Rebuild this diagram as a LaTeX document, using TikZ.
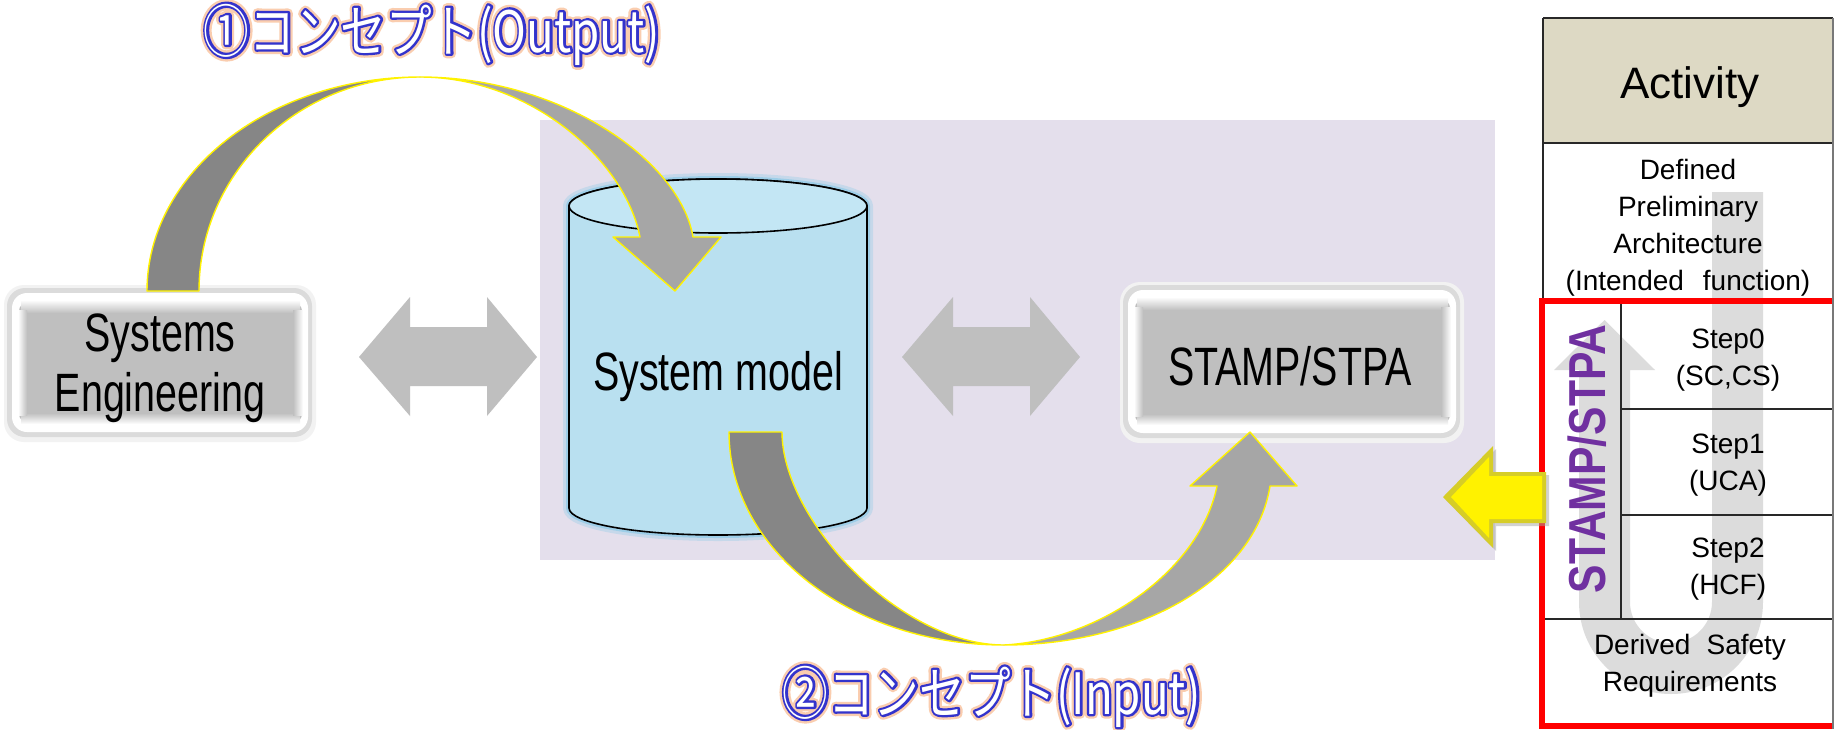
\documentclass[tikz,border=0pt]{standalone}
\usepackage{fontspec}
\setmainfont{Liberation Sans}
\newfontfamily\condfont[FakeStretch=0.73]{Liberation Sans}
\newfontfamily\stampfont[FakeStretch=0.82]{Liberation Sans}
% concept labels: plain lettering, a blue rim and a wide halo behind it
\newfontfamily\jpfont[FakeStretch=0.8]{Noto Sans CJK JP}
\newfontfamily\jprim[FakeStretch=0.8,FakeBold=8]{Noto Sans CJK JP}
\newfontfamily\jphalo[FakeStretch=0.8,FakeBold=16.5]{Noto Sans CJK JP}
\usetikzlibrary{calc}

\definecolor{bgpurple}{RGB}{228,223,236}
\definecolor{arrowdark}{RGB}{134,134,134}
\definecolor{arrowlight}{RGB}{166,166,166}
\definecolor{dblgray}{RGB}{191,191,191}
\definecolor{facegray}{RGB}{191,191,191}
\definecolor{cylblue}{RGB}{185,224,240}
\definecolor{cyltop}{RGB}{195,230,244}
\definecolor{glowblue}{RGB}{110,196,230}
\definecolor{headtan}{RGB}{221,217,196}
\definecolor{stpapurple}{RGB}{112,48,160}
\definecolor{lblblue}{RGB}{51,51,204}
\definecolor{lblglow}{RGB}{250,205,175}
\definecolor{ugray}{RGB}{220,220,220}
\definecolor{tableline}{RGB}{40,40,40}
\definecolor{edgegray}{RGB}{120,120,120}

% bevelled rounded box: corners (#1,#2) and (#3,#4)
\newcommand\bevelbox[4]{%
  \fill[gray!10, rounded corners=20pt] (#1-3,#2-3) rectangle (#3+4,#4+5);
  \fill[gray!28, rounded corners=18pt] (#1,#2) rectangle (#3,#4);
  \fill[white, rounded corners=15pt] (#1+5,#2+5) rectangle (#3-4,#4-5);
  \fill[facegray, rounded corners=8pt] (#1+12,#2+15) rectangle (#3-10,#4-15);
  \shade[top color=white, bottom color=facegray] (#1+14,#2+12) rectangle (#3-12,#2+25);
  \shade[top color=facegray, bottom color=white] (#1+14,#4-24) rectangle (#3-12,#4-13);
  \shade[left color=white, right color=facegray] (#1+11,#2+22) rectangle (#1+20,#4-22);
  \shade[left color=facegray, right color=white] (#3-19,#2+22) rectangle (#3-9,#4-22);
}

% white lettering with a blue rim, over a soft peach halo
\newcommand\outlinedlabel[4]{%
  \node[jplabel, text=lblglow] (#1halo) at (#2,#3) {\jphalo\special{pdf:literal direct 1 j}#4};
  \node[jplabel, text=lblblue] (#1rim) at (#2,#3) {\jprim\special{pdf:literal direct 1 j}#4};
  \node[jplabel, text=white] (#1) at (#2,#3) {\jpfont #4};
}

\def\cylpath{(569,206) -- (569,508) arc[start angle=180,end angle=0,x radius=149,y radius=27]
  -- (867,206) arc[start angle=0,end angle=-180,x radius=149,y radius=27] -- cycle}

\begin{document}
\begin{tikzpicture}[x=1pt,y=-1pt,
  ribbon/.style={draw=yellow, line width=1.4pt, line join=round},
  dblarrow/.style={fill=dblgray},
  boxtext/.style={font=\condfont\fontsize{54}{60}\selectfont, align=center, inner sep=0, text=black},
  cell/.style={font=\fontsize{28}{37}\selectfont, align=center, inner sep=0, text=black},
  jplabel/.style={font=\fontsize{57}{60}\selectfont, anchor=base, inner sep=0},
  rule/.style={draw=tableline, line width=1.6pt}]

\useasboundingbox (0,0) rectangle (1836,729);
\fill[white] (0,0) rectangle (1836,729);

% shaded work area
\fill[bgpurple] (540,120) rectangle (1495,560);

% two-way block arrows
\fill[dblarrow] (359,357) -- (410,297) -- (410,327) -- (487,327) -- (487,297) -- (537,357)
  -- (487,416) -- (487,386) -- (410,386) -- (410,416) -- cycle;
\fill[dblarrow] (902,357) -- (953,297) -- (953,327) -- (1030,327) -- (1030,297) -- (1080,357)
  -- (1030,416) -- (1030,386) -- (953,386) -- (953,416) -- cycle;

% Systems Engineering box
\bevelbox{7}{288}{312}{437}
\node[boxtext] (se) at (160,368) {Systems\\Engineering};

% STAMP/STPA box
\bevelbox{1123}{285}{1460}{438}
\node[boxtext, anchor=base] (stpa) at (1290,385) {STAMP/STPA};

% System model cylinder
\draw[glowblue, line width=12pt, opacity=0.25, line join=round] \cylpath;
\draw[glowblue, line width=6pt, opacity=0.45, line join=round] \cylpath;
\fill[cylblue] \cylpath;
\draw[black, line width=1.6pt, line join=round] \cylpath;
\filldraw[fill=cyltop, draw=black, line width=1.6pt] (718,206) ellipse[x radius=149, y radius=27];
\node[boxtext, anchor=base] (model) at (718,390) {System model};

% curved arrow: Systems Engineering -> System model
\filldraw[ribbon, fill=arrowdark] (147,291) .. controls (147,173) and (269,77) .. (420,77)
  .. controls (298,77) and (199,173) .. (199,291) -- cycle;
\filldraw[ribbon, fill=arrowlight] (420,77) .. controls (560,77) and (680,160) .. (693,237)
  -- (721,237) -- (675,291) -- (613,237) -- (640,237)
  .. controls (625,160) and (530,77) .. (420,77) -- cycle;

% curved arrow: System model -> STAMP/STPA
\filldraw[ribbon, fill=arrowdark] (729,432) .. controls (729,550) and (852,645) .. (1004,645)
  .. controls (900,645) and (782,520) .. (782,432) -- cycle;
\filldraw[ribbon, fill=arrowlight] (1004,645) .. controls (1140,645) and (1255,580) .. (1270,486)
  -- (1297,486) -- (1250,432) -- (1190,486) -- (1217,486)
  .. controls (1200,570) and (1100,640) .. (1004,645) -- cycle;

% activity table
\fill[headtan] (1543,18) rectangle (1833,143);
\fill[white] (1543,143) rectangle (1833,725);
% U-turn flow through the STPA steps
\fill[ugray] (1712,192) -- (1763,192) -- (1763,602) arc[start angle=0,end angle=180,radius=92]
  -- (1579,370) -- (1554,370) -- (1604.5,320) -- (1655,370) -- (1630,370) -- (1630,602)
  arc[start angle=180,end angle=0,radius=41] -- cycle;
\draw[rule] (1543,18) -- (1833,18);
\draw[rule] (1543,143) -- (1833,143);
\draw[rule] (1543,18) -- (1543,301);
\draw[rule] (1621,301) -- (1621,619);
\draw[rule] (1621,409) -- (1833,409);
\draw[rule] (1621,515) -- (1833,515);
\draw[rule] (1545,619) -- (1833,619);
\draw[red, line width=6pt] (1833,301) -- (1541.5,301) -- (1541.5,725.5) -- (1833,725.5);
\draw[draw=edgegray, line width=2pt] (1832.5,18) -- (1832.5,729);

\node[font=\fontsize{44}{50}\selectfont, anchor=base, inner sep=0] (activity) at (1690,98) {Activity};
\node[cell] (prelim) at (1688,228) {Defined\\Preliminary\\Architecture\\(Intended\hspace{0.4em} function)};
\node[cell] (step0) at (1728,360) {Step0\\(SC,CS)};
\node[cell] (step1) at (1728,465) {Step1\\(UCA)};
\node[cell] (step2) at (1728,569) {Step2\\(HCF)};
\node[cell] (dsr) at (1690,666) {Derived\hspace{0.3em} Safety\\Requirements};
\node[font=\stampfont\bfseries\fontsize{52}{52}\selectfont, text=stpapurple, rotate=90,
  anchor=base, inner sep=0] (vstpa) at (1605,459) {STAMP/STPA};

% feedback arrow from the table to STAMP/STPA
\fill[gray!70, opacity=0.5] (1446,500) -- (1496,449) -- (1496,475) -- (1549,475) -- (1549,526)
  -- (1496,526) -- (1496,551) -- cycle;
\fill[yellow!82!black] (1443,497) -- (1493,446) -- (1493,472) -- (1546,472) -- (1546,523)
  -- (1493,523) -- (1493,548) -- cycle;
\fill[yellow] (1451,497) -- (1489,457) -- (1489,476) -- (1542,476) -- (1542,519)
  -- (1489,519) -- (1489,538) -- cycle;

% concept labels
\outlinedlabel{outlbl}{432}{52}{①コンセプト(Output)}
\outlinedlabel{inlbl}{992}{714}{②コンセプト(Input)}

\end{tikzpicture}
\end{document}
